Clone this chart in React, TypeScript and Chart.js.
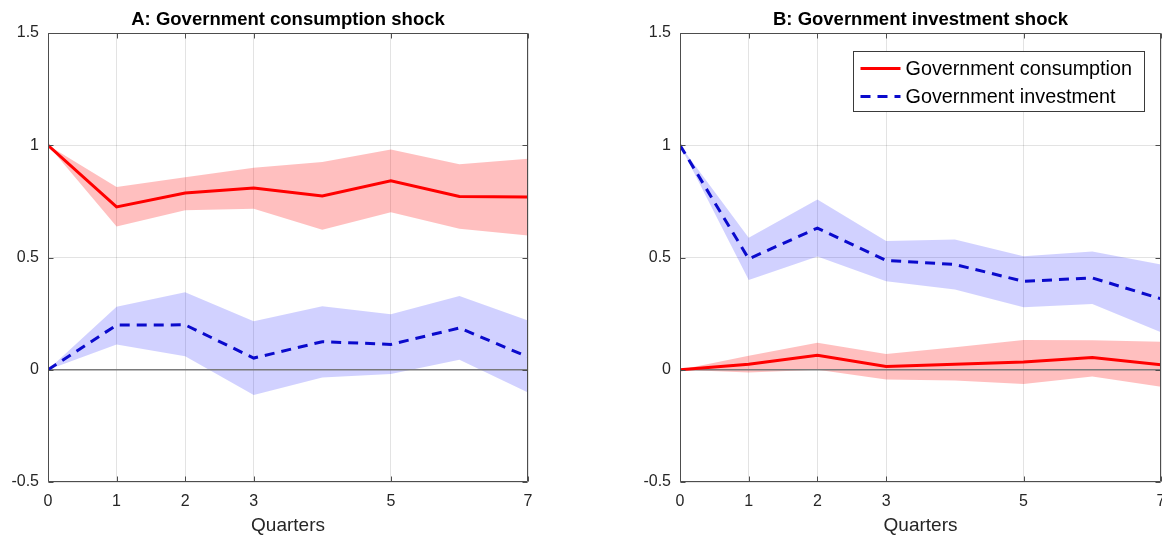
import React, { useEffect, useRef } from "react";
import { Chart, registerables } from "chart.js";

Chart.register(...registerables);

// ---------- data ----------
const quarters = [0, 1, 2, 3, 4, 5, 6, 7];
const xTickValues = [0, 1, 2, 3, 5, 7];
const yTickValues = [-0.5, 0, 0.5, 1, 1.5];
const yTickLabels = ["-0.5", "0", "0.5", "1", "1.5"];

const titleA = "A: Government consumption shock";
const titleB = "B: Government investment shock";
const xAxisTitle = "Quarters";
const legendLabels = ["Government consumption", "Government investment"];

// Panel A: government consumption shock
const consA = [1, 0.725, 0.787, 0.81, 0.774, 0.842, 0.772, 0.769];
const consAUpper = [1, 0.814, 0.858, 0.9, 0.925, 0.981, 0.915, 0.94];
const consALower = [1, 0.638, 0.71, 0.717, 0.624, 0.702, 0.628, 0.598];
const invA = [0, 0.199, 0.2, 0.052, 0.125, 0.113, 0.186, 0.057];
const invAUpper = [0, 0.281, 0.345, 0.216, 0.283, 0.247, 0.329, 0.219];
const invALower = [0, 0.113, 0.06, -0.112, -0.034, -0.019, 0.045, -0.101];

// Panel B: government investment shock
const invB = [1, 0.494, 0.631, 0.487, 0.469, 0.394, 0.409, 0.316];
const invBUpper = [1, 0.588, 0.758, 0.573, 0.58, 0.506, 0.527, 0.469];
const invBLower = [1, 0.4, 0.504, 0.394, 0.358, 0.278, 0.293, 0.167];
const consB = [0, 0.025, 0.065, 0.015, 0.025, 0.034, 0.055, 0.022];
const consBUpper = [0, 0.0625, 0.12, 0.07, 0.1, 0.132, 0.131, 0.125];
const consBLower = [0, -0.012, 0.0, -0.043, -0.048, -0.064, -0.03, -0.076];

const zeroLine = [0, 0];
const zeroLineX = [0, 7];

// ---------- styles ----------
const FONT = "'Liberation Sans', Arial, Helvetica, sans-serif";
const RED = "#ff0000";
const BLUE = "#0a0acc";
const RED_BAND = "rgba(255,0,0,0.25)";
const BLUE_BAND = "rgba(0,0,255,0.18)";
const AXIS = "#4d4d4d";
const TEXT = "#262626";
const GRID = "rgba(38,38,38,0.13)";
const DASH = [10, 7];

const pts = (ys: number[], xs: number[] = quarters) => xs.map((x, i) => ({ x, y: ys[i] }));

const framePlugin = {
  id: "frame",
  afterDatasetsDraw(chart: any) {
    const { ctx, chartArea } = chart;
    const l = Math.round(chartArea.left) + 0.5;
    const r = Math.round(chartArea.right) - 0.5;
    const t = Math.round(chartArea.top) + 0.5;
    const b = Math.round(chartArea.bottom) - 0.5;
    const xs = chart.scales.x;
    const ys = chart.scales.y;
    ctx.save();
    ctx.strokeStyle = AXIS;
    ctx.lineWidth = 1;
    ctx.beginPath();
    ctx.rect(l, t, r - l, b - t);
    const tl = 5;
    xs.ticks.forEach((tk: any) => {
      const px = Math.round(xs.getPixelForValue(tk.value)) + 0.5;
      ctx.moveTo(px, b);
      ctx.lineTo(px, b - tl);
      ctx.moveTo(px, t);
      ctx.lineTo(px, t + tl);
    });
    ys.ticks.forEach((tk: any) => {
      const py = Math.round(ys.getPixelForValue(tk.value)) + 0.5;
      ctx.moveTo(l, py);
      ctx.lineTo(l + tl, py);
      ctx.moveTo(r, py);
      ctx.lineTo(r - tl, py);
    });
    ctx.stroke();
    ctx.restore();
  },
};

const legendPlugin = {
  id: "boxLegend",
  afterDraw(chart: any, _args: any, opts: any) {
    if (!opts || !opts.show) return;
    const { ctx, chartArea } = chart;
    const w = 291;
    const h = 60;
    const left = Math.round(chartArea.right - 17 - w) + 0.5;
    const top = Math.round(chartArea.top + 18) + 0.5;
    ctx.save();
    ctx.fillStyle = "#ffffff";
    ctx.fillRect(left, top, w, h);
    ctx.strokeStyle = "#3a3a3a";
    ctx.lineWidth = 1;
    ctx.strokeRect(left, top, w, h);
    const rows = [
      { y: top + 17, color: RED, dash: [] as number[] },
      { y: top + 45, color: BLUE, dash: DASH },
    ];
    ctx.font = `19.8px ${FONT}`;
    ctx.textBaseline = "middle";
    ctx.textAlign = "left";
    rows.forEach((row, i) => {
      ctx.beginPath();
      ctx.strokeStyle = row.color;
      ctx.lineWidth = 3;
      ctx.setLineDash(row.dash);
      ctx.moveTo(left + 7, row.y);
      ctx.lineTo(left + 47, row.y);
      ctx.stroke();
      ctx.setLineDash([]);
      ctx.fillStyle = "#000000";
      ctx.fillText(legendLabels[i], left + 52, row.y + 1);
    });
    ctx.restore();
  },
};

function makeConfig(
  title: string,
  solid: number[],
  solidUp: number[],
  solidLo: number[],
  dashed: number[],
  dashedUp: number[],
  dashedLo: number[],
  padding: { left: number; right: number },
  showLegend: boolean
): any {
  const band = (data: number[], color: string, fill: any) => ({
    data: pts(data),
    borderColor: "transparent",
    borderWidth: 0,
    backgroundColor: color,
    pointRadius: 0,
    fill,
    order: 3,
  });
  return {
    type: "line",
    data: {
      datasets: [
        {
          data: pts(solid),
          borderColor: RED,
          borderWidth: 3,
          pointRadius: 0,
          fill: false,
          order: 0,
        },
        {
          data: pts(dashed),
          borderColor: BLUE,
          borderWidth: 3,
          borderDash: DASH,
          pointRadius: 0,
          fill: false,
          order: 0,
        },
        {
          data: pts(zeroLine, zeroLineX),
          borderColor: "#7a7a7a",
          borderWidth: 1.3,
          pointRadius: 0,
          fill: false,
          order: 1,
        },
        band(solidUp, RED_BAND, "+1"),
        band(solidLo, RED_BAND, false),
        band(dashedUp, BLUE_BAND, "+1"),
        band(dashedLo, BLUE_BAND, false),
      ],
    },
    options: {
      responsive: false,
      animation: false,
      events: [],
      devicePixelRatio: 1,
      layout: { padding: { left: padding.left, right: padding.right, top: 0, bottom: 0 } },
      plugins: {
        legend: { display: false },
        tooltip: { enabled: false },
        title: {
          display: true,
          text: title,
          fullSize: false,
          color: "#000000",
          font: { family: FONT, size: 18.5, weight: "bold", lineHeight: 1.2 },
          padding: { top: 9, bottom: 1.8 },
        },
        boxLegend: { show: showLegend },
      },
      scales: {
        x: {
          type: "linear",
          min: 0,
          max: 7,
          afterBuildTicks: (scale: any) => {
            scale.ticks = xTickValues.map((v) => ({ value: v }));
          },
          afterFit: (scale: any) => {
            scale.height = 53;
          },
          ticks: {
            autoSkip: false,
            maxRotation: 0,
            padding: 10,
            color: TEXT,
            font: { family: FONT, size: 16 },
            callback: (v: any) => String(v),
          },
          grid: { color: GRID, drawTicks: false, lineWidth: 1 },
          border: { display: false },
          title: {
            display: true,
            text: xAxisTitle,
            color: TEXT,
            font: { family: FONT, size: 19, lineHeight: 1 },
            padding: { top: 0, bottom: 0 },
          },
        },
        y: {
          type: "linear",
          min: -0.5,
          max: 1.5,
          afterBuildTicks: (scale: any) => {
            scale.ticks = yTickValues.map((v) => ({ value: v }));
          },
          afterFit: (scale: any) => {
            scale.width = 48;
          },
          ticks: {
            padding: 9,
            color: TEXT,
            font: { family: FONT, size: 16 },
            callback: (v: any) => {
              const i = yTickValues.indexOf(Number(v));
              return i >= 0 ? yTickLabels[i] : String(v);
            },
          },
          grid: { color: GRID, drawTicks: false, lineWidth: 1 },
          border: { display: false },
        },
      },
    },
    plugins: [framePlugin, legendPlugin],
  };
}

export default function App() {
  const refA = useRef<HTMLCanvasElement | null>(null);
  const refB = useRef<HTMLCanvasElement | null>(null);

  useEffect(() => {
    if (!refA.current || !refB.current) return;
    const chartA = new Chart(
      refA.current,
      makeConfig(titleA, consA, consAUpper, consALower, invA, invAUpper, invALower, { left: 0, right: 52 }, false)
    );
    const chartB = new Chart(
      refB.current,
      makeConfig(titleB, consB, consBUpper, consBLower, invB, invBUpper, invBLower, { left: 52, right: 19 }, true)
    );
    return () => {
      chartA.destroy();
      chartB.destroy();
    };
  }, []);

  return (
    <div
      style={{
        position: "fixed",
        left: 0,
        top: 0,
        width: 1162,
        height: 535,
        overflow: "hidden",
        background: "#ffffff",
      }}
    >
      <canvas
        ref={refA}
        width={580}
        height={535}
        style={{ position: "absolute", left: 0, top: 0, width: 580, height: 535 }}
      />
      <canvas
        ref={refB}
        width={600}
        height={535}
        style={{ position: "absolute", left: 580, top: 0, width: 600, height: 535 }}
      />
    </div>
  );
}
